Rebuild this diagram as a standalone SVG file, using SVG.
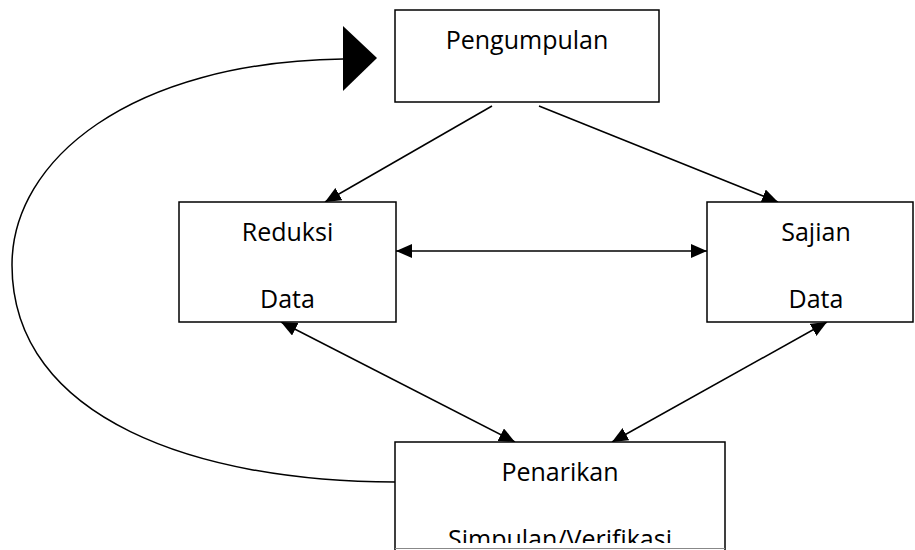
<svg xmlns="http://www.w3.org/2000/svg" width="915" height="550" viewBox="0 0 915 550">
<style>
.box{fill:#fff;stroke:#000;stroke-width:1.5}
.lbl{font-family:"Open Sans","Noto Sans",sans-serif;font-size:25px;fill:#000;text-anchor:middle}
.con{fill:none;stroke:#000;stroke-width:1.5}
</style>
<defs>
<marker id="ah" viewBox="0 0 16 14" refX="16" refY="7" markerWidth="16" markerHeight="14" markerUnits="userSpaceOnUse" orient="auto-start-reverse">
<path d="M0,0 L16,7 L0,14 Z" fill="#000"/>
</marker>
<clipPath id="cut"><rect x="0" y="0" width="915" height="543"/></clipPath>
</defs>
<rect width="915" height="550" fill="#fff"/>
<g id="connectors">
<path class="con" d="M492,106 L325,202" marker-end="url(#ah)"/>
<path class="con" d="M539,106 L778,202" marker-end="url(#ah)"/>
<path class="con" d="M396,251 L707,251" marker-start="url(#ah)" marker-end="url(#ah)"/>
<path class="con" d="M281,322 L515,442" marker-start="url(#ah)" marker-end="url(#ah)"/>
<path class="con" d="M827,322 L612,442" marker-start="url(#ah)" marker-end="url(#ah)"/>
<path class="con" d="M395,482 C200,482 12,420 12,265 C12,160 130,62 343,59"/>
<path d="M343,26 L377,58 L343,91 Z" fill="#000"/>
</g>
<g id="pengumpulan">
<rect class="box" x="395" y="10" width="264" height="92"/>
<text class="lbl" x="527" y="49">Pengumpulan</text>
</g>
<g id="reduksi">
<rect class="box" x="179" y="202" width="217" height="120"/>
<text class="lbl" x="287.5" y="241">Reduksi</text>
<text class="lbl" x="287.5" y="308">Data</text>
</g>
<g id="sajian">
<rect class="box" x="707" y="202" width="206" height="120"/>
<text class="lbl" x="816" y="241">Sajian</text>
<text class="lbl" x="816" y="308">Data</text>
</g>
<g id="penarikan">
<rect class="box" x="395" y="442" width="330" height="120"/>
<text class="lbl" x="560" y="481">Penarikan</text>
<text class="lbl" x="560" y="548" clip-path="url(#cut)">Simpulan/Verifikasi</text>
<line x1="395" y1="548.5" x2="725" y2="548.5" stroke="#888" stroke-width="1.2"/>
</g>
</svg>
